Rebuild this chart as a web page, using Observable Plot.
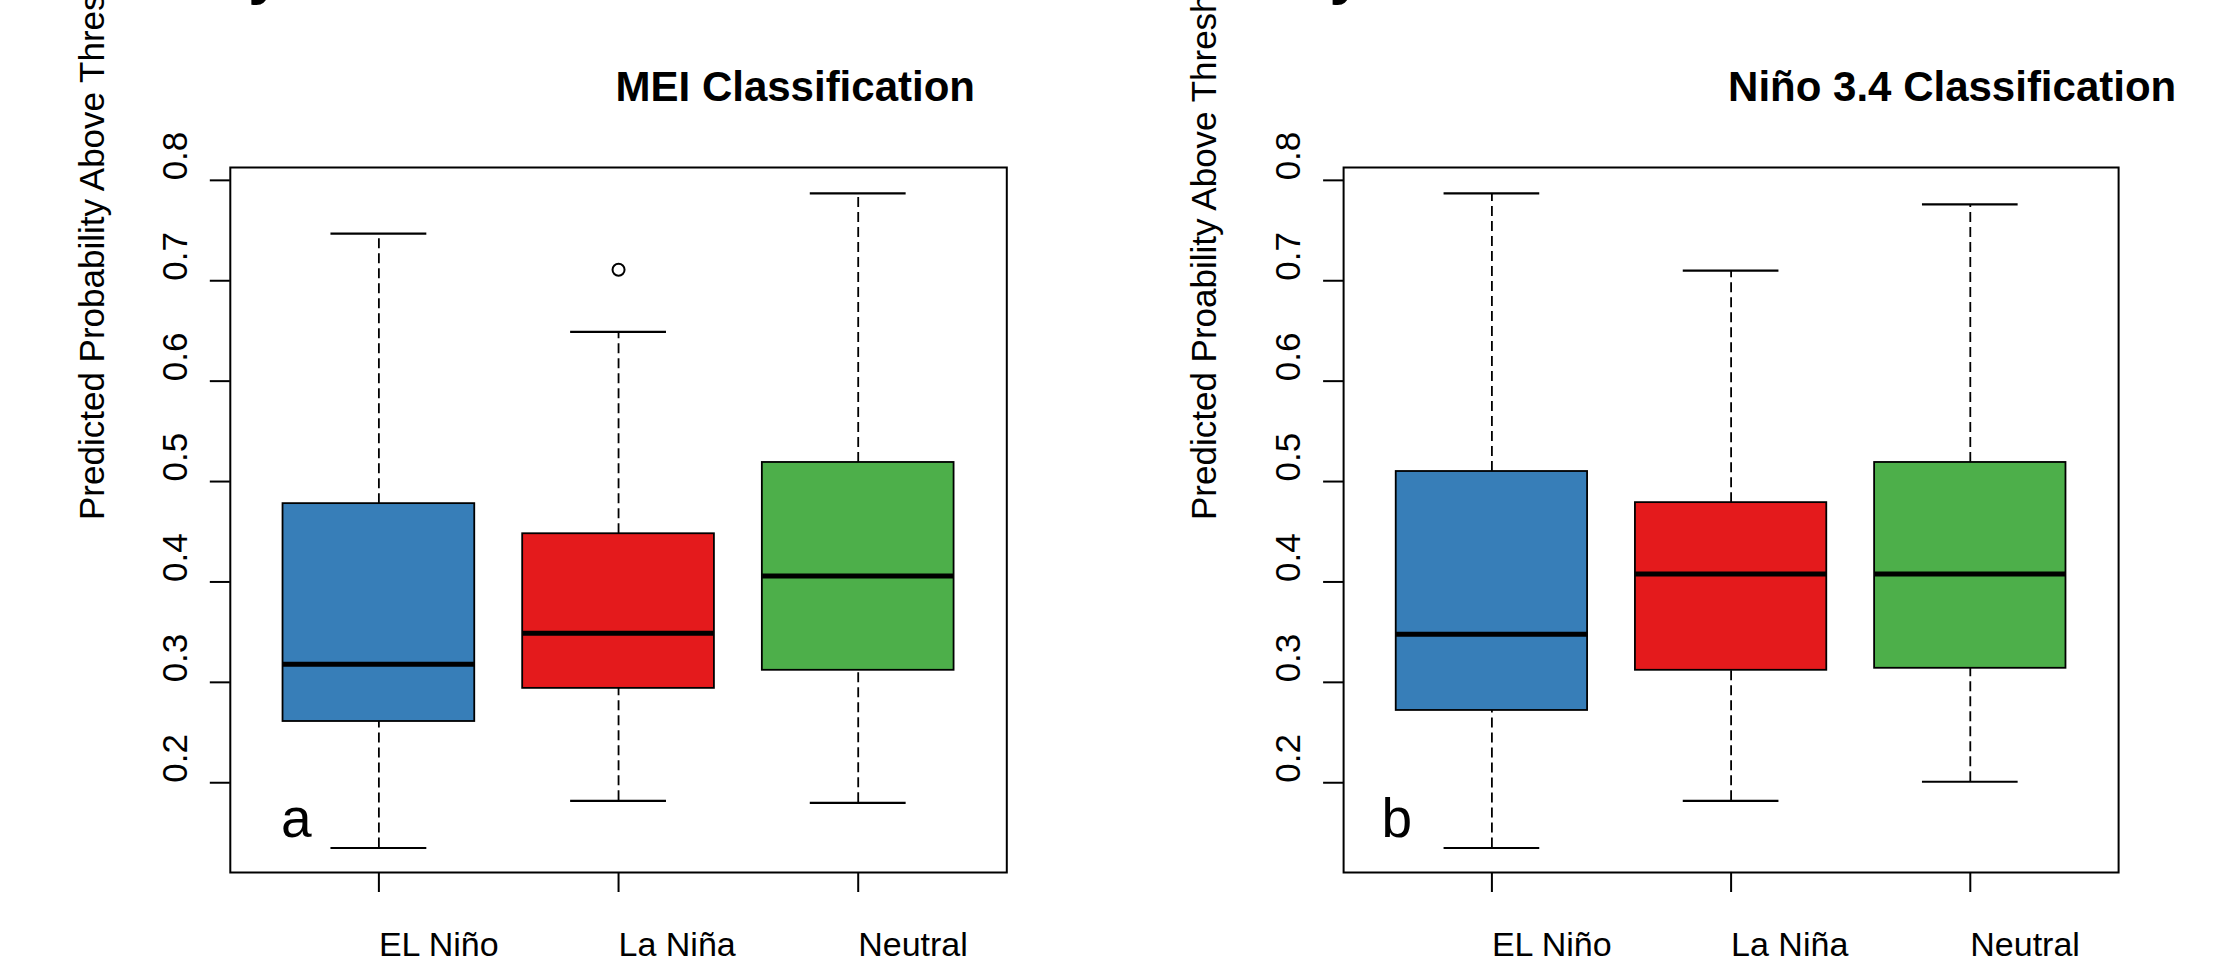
<!DOCTYPE html>
<html><head><meta charset="utf-8">
<script src="https://cdn.jsdelivr.net/npm/d3@7"></script>
<script src="https://cdn.jsdelivr.net/npm/@observablehq/plot@0.6"></script>
<style>
html,body{margin:0;padding:0;background:#fff;}
#wrap{display:flex;width:2238px;height:966px;overflow:hidden;}
#wrap svg{flex:none;max-width:none;}
</style></head><body><div id="wrap"></div>
<script>
// ---- data ----
const categories = ["EL Niño", "La Niña", "Neutral"];
const boxColors = ["#377EB8", "#E41A1C", "#4DAF4A"];
const yTicks = [0.2, 0.3, 0.4, 0.5, 0.6, 0.7, 0.8];

// Panel a: MEI Classification
const meiLow    = [0.135, 0.182, 0.180];
const meiQ1     = [0.261, 0.294, 0.312];
const meiMedian = [0.318, 0.349, 0.406];
const meiQ3     = [0.478, 0.448, 0.519];
const meiHigh   = [0.747, 0.649, 0.787];
const meiOutCat = ["La Niña"];
const meiOutVal = [0.711];

// Panel b: Niño 3.4 Classification
const ninoLow    = [0.135, 0.182, 0.201];
const ninoQ1     = [0.272, 0.312, 0.314];
const ninoMedian = [0.348, 0.408, 0.408];
const ninoQ3     = [0.510, 0.479, 0.519];
const ninoHigh   = [0.787, 0.710, 0.776];
const ninoOutCat = [];
const ninoOutVal = [];

const font = "'Liberation Sans', Arial, Helvetica, sans-serif";

function panel(cfg) {
  const rows = categories.map((c, k) => ({
    cat: c, i: k + 1, color: boxColors[k],
    lo: cfg.lo[k], q1: cfg.q1[k], med: cfg.med[k], q3: cfg.q3[k], hi: cfg.hi[k]
  }));
  const outs = cfg.outCat.map((c, k) => ({i: categories.indexOf(c) + 1, v: cfg.outVal[k]}));
  return Plot.plot({
    width: 1119, height: 966,
    marginTop: 167, marginBottom: 94, marginLeft: cfg.ml, marginRight: cfg.mr,
    style: {fontFamily: font, background: "white", color: "black"},
    x: {domain: [0.38, 3.62]},
    y: {domain: [0.1106, 0.8128]},
    color: {type: "identity"},
    marks: [
      // whiskers
      Plot.ruleX(rows, {x: "i", y1: "q3", y2: "hi", stroke: "black", strokeWidth: 1.8, strokeDasharray: "10,5"}),
      Plot.ruleX(rows, {x: "i", y1: "lo", y2: "q1", stroke: "black", strokeWidth: 1.8, strokeDasharray: "10,5"}),
      // staples
      Plot.ruleY(rows, {y: "hi", x1: d => d.i - 0.2, x2: d => d.i + 0.2, stroke: "black", strokeWidth: 2.2}),
      Plot.ruleY(rows, {y: "lo", x1: d => d.i - 0.2, x2: d => d.i + 0.2, stroke: "black", strokeWidth: 2.2}),
      // boxes
      Plot.rect(rows, {x1: d => d.i - 0.4, x2: d => d.i + 0.4, y1: "q1", y2: "q3", fill: "color", stroke: "black", strokeWidth: 1.8}),
      // medians
      Plot.ruleY(rows, {y: "med", x1: d => d.i - 0.4, x2: d => d.i + 0.4, stroke: "black", strokeWidth: 5}),
      // outliers
      Plot.dot(outs, {x: "i", y: "v", r: 6, stroke: "black", strokeWidth: 2, fill: "none"}),
      Plot.frame({stroke: "black", strokeWidth: 2}),
      // axes ticks
      Plot.axisY({ticks: yTicks, tickSize: 20, tickFormat: () => "", label: null, strokeWidth: 2}),
      Plot.axisX({ticks: [1, 2, 3], tickSize: 20, tickFormat: () => "", label: null, strokeWidth: 2}),
      // y tick labels (rotated, start at tick)
      Plot.text(yTicks, {y: d => d, text: d => d.toFixed(1), frameAnchor: "left", dx: cfg.ytdx,
        rotate: -90, textAnchor: "start", lineAnchor: "middle", fontSize: 35, fill: "black"}),
      // x labels (start at tick)
      Plot.text(categories, {x: (d, k) => k + 1, text: d => d, frameAnchor: "bottom", dy: 72.8,
        textAnchor: "start", lineAnchor: "middle", fontSize: 34, fill: "black"}),
      // y axis title
      Plot.text([cfg.ylab], {text: d => d, frameAnchor: "left", dx: cfg.yldx, rotate: -90,
        textAnchor: "start", lineAnchor: "middle", fontSize: 35, fill: "black"}),
      // panel title
      Plot.text([cfg.title], {x: () => 2, text: d => d, frameAnchor: "top", dx: -3, dy: -79.8,
        textAnchor: "start", lineAnchor: "middle", fontSize: 42, fontWeight: "bold", fill: "black"}),
      // panel letter
      Plot.text([cfg.letter], {text: d => d, frameAnchor: "bottom-left", dx: cfg.ldx, dy: -53.6,
        textAnchor: "start", lineAnchor: "middle", fontSize: 55, fill: "black"}),
      // clipped fragment of a heading above the figure
      Plot.text(["y"], {text: d => d, frameAnchor: "top-left", dx: cfg.fdx, dy: -194,
        textAnchor: "start", lineAnchor: "middle", fontSize: 60, fontWeight: "bold", fill: "black"})
    ]
  });
}

const wrap = document.getElementById("wrap");
wrap.append(panel({
  lo: meiLow, q1: meiQ1, med: meiMedian, q3: meiQ3, hi: meiHigh, outCat: meiOutCat, outVal: meiOutVal,
  ml: 229.8, mr: 112.7, ytdx: -54.5, yldx: -137.7, ldx: 50.8, fdx: 18,
  title: "MEI Classification", letter: "a",
  ylab: "Predicted Probability Above Threshold"
}));
wrap.append(panel({
  lo: ninoLow, q1: ninoQ1, med: ninoMedian, q3: ninoQ3, hi: ninoHigh, outCat: ninoOutCat, outVal: ninoOutVal,
  ml: 224.1, mr: 119.9, ytdx: -55, yldx: -138.6, ldx: 38, fdx: -14,
  title: "Niño 3.4 Classification", letter: "b",
  ylab: "Predicted Proability Above Threshold"
}));
</script>
</body></html>
